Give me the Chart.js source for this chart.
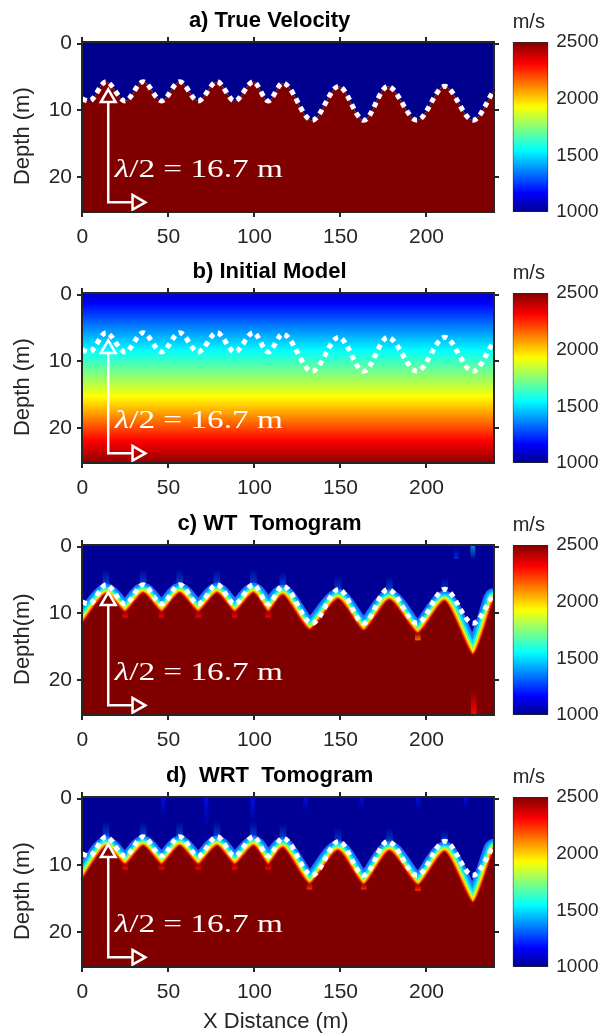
<!DOCTYPE html>
<html>
<head>
<meta charset="utf-8">
<script src="https://cdn.jsdelivr.net/npm/chart.js@4.4.1/dist/chart.umd.min.js"></script>
<style>
  html, body { margin: 0; padding: 0; background: #fff; }
  #fig { position: relative; width: 600px; height: 1036px; overflow: hidden; }
  canvas { position: absolute; }
</style>
</head>
<body>
<div id="fig"></div>
<script>
// axis limits and ticks
const X_MIN = -0.25, X_MAX = 239.25;
const Z_MIN = -0.25, Z_MAX = 25.25;
const V_MIN = 1000, V_MAX = 2500;
const xTicks = [0, 50, 100, 150, 200];
const zTicks = [0, 10, 20];
const vTicks = [1000, 1500, 2000, 2500];

// true interface (peaks / troughs)
const trueX = [-0.25, 4, 13.7, 24.8, 35.3, 46, 56.5, 67.3, 78.2, 88.5, 99.4, 108, 116.5, 133.5, 149, 163.5, 177.5, 194.5, 210.6, 227, 239.25];
const trueZ = [8.3, 8.6, 5.7, 8.6, 5.7, 8.6, 5.7, 8.6, 5.7, 8.6, 5.7, 8.6, 5.9, 11.5, 6.4, 11.5, 6.4, 11.5, 6.4, 11.5, 7.0];
const velTop = 1000, velBottom = 2500;

// initial model: velocity against depth (panel b)
const initDepth = [-0.25, 1.3, 8.4, 15.3, 21.9, 25.25];
const initVel = [1085, 1167, 1548, 1929, 2310, 2480];

// tomograms: depth where the ~2500 m/s region starts
const tomoX = [-0.25, 13.7, 24.8, 35.3, 46, 56.5, 67.3, 78.2, 88.5, 99.4, 108, 116.5, 132, 148.5, 163.5, 178.5, 195, 210.6, 227, 239.25];
const wtZ = [11.6, 7.1, 9.8, 7.0, 9.8, 7.0, 9.8, 7.0, 9.8, 7.0, 9.8, 7.3, 12.5, 7.9, 12.6, 8.0, 13.0, 8.2, 16.2, 7.8];
const wrtZ = [12.2, 7.2, 9.9, 7.1, 9.9, 7.1, 9.9, 7.1, 9.9, 7.1, 9.9, 7.4, 12.8, 7.8, 12.9, 7.9, 13.0, 8.0, 15.6, 7.6];
const tomoTopVel = 1010;

// light-blue glows above the peaks
const glowX = [13.7, 35.3, 56.5, 78.2, 99.4, 116.5, 148.5, 178.5, 210.6];
const glowTop = [3.4, 3.4, 3.4, 3.4, 3.4, 3.8, 4.4, 4.4, 4.6];
const glowBot = [6.8, 6.8, 6.8, 6.8, 6.8, 7.0, 7.6, 7.7, 7.9];

// isolated anomalies in the WT tomogram
const wtSpotX = [217.3, 227, 227.5, 24.8, 46, 67.3, 88.5, 108, 195];
const wtSpotTop = [0.2, -0.25, 21.5, 9.5, 9.5, 9.5, 9.5, 9.5, 12.9];
const wtSpotBot = [1.8, 2.0, 25.25, 10.6, 10.6, 10.6, 10.6, 10.6, 14.0];
const wtSpotVel = [1250, 1500, 2300, 2330, 2330, 2330, 2330, 2330, 2150];

// streaks and anomalies in the WRT tomogram
const wrtSpotX = [46.9, 71.9, 98.9, 129.7, 162.4, 195.2, 223, 24.8, 46, 67.3, 88.5, 108, 132, 163.5, 195];
const wrtSpotTop = [-0.25, -0.25, -0.25, -0.25, -0.25, -0.25, -0.25, 9.6, 9.6, 9.6, 9.6, 9.6, 12.6, 12.7, 12.8];
const wrtSpotBot = [3.0, 4.5, 4.0, 1.9, 1.5, 1.7, 1.5, 10.6, 10.6, 10.6, 10.6, 10.6, 13.6, 13.6, 13.8];
const wrtSpotVel = [1200, 1200, 1200, 1200, 1200, 1200, 1200, 2330, 2330, 2330, 2330, 2330, 2250, 2250, 2250];

// half-wavelength marker
const arrowX = [15, 15, 29.2];
const arrowZ = [8.76, 23.8, 23.8];
const headX = [15, 31.6];
const headZ = [8.12, 23.8];
const headRot = [0, 90];
const LABEL_X = 18.8, LABEL_Z = 20;

const INK = '#262626';
Chart.defaults.font.family = "'Liberation Sans', Arial, Helvetica, sans-serif";
Chart.defaults.color = INK;

function jet(v, a) {
  let t = (v - V_MIN) / (V_MAX - V_MIN);
  t = Math.min(1, Math.max(0, t));
  t = (t * 63 + 1) / 64;
  const c = (s) => Math.round(255 * Math.min(1, Math.max(0, s)));
  const r = c(Math.min(4 * t - 1.5, -4 * t + 4.5));
  const g = c(Math.min(4 * t - 0.5, -4 * t + 3.5));
  const b = c(Math.min(4 * t + 0.5, -4 * t + 2.5));
  return a === undefined ? `rgb(${r},${g},${b})` : `rgba(${r},${g},${b},${a})`;
}

function pts(xs, zs) {
  return xs.map((x, i) => ({ x, y: zs[i] }));
}

function profileAt(d, depths, vels) {
  if (d <= depths[0]) return vels[0];
  for (let i = 1; i < depths.length; i++) {
    if (d <= depths[i]) {
      const f = (d - depths[i - 1]) / (depths[i] - depths[i - 1]);
      return vels[i - 1] + f * (vels[i] - vels[i - 1]);
    }
  }
  return vels[vels.length - 1];
}

// vertical colour gradient for panel b, mapped through the y scale
function depthGradient(c) {
  const chart = c.chart;
  const area = chart.chartArea;
  if (!area) return jet(initVel[0]);
  const ys = chart.scales.y;
  const g = chart.ctx.createLinearGradient(0, area.top, 0, area.bottom);
  for (let k = 0; k <= 100; k++) {
    const d = Z_MIN + (Z_MAX - Z_MIN) * k / 100;
    const p = (ys.getPixelForValue(d) - area.top) / (area.bottom - area.top);
    g.addColorStop(Math.min(1, Math.max(0, p)), jet(profileAt(d, initDepth, initVel)));
  }
  return g;
}

function barGradient(c) {
  const chart = c.chart;
  const area = chart.chartArea;
  if (!area) return jet(V_MIN);
  const ys = chart.scales.y;
  const g = chart.ctx.createLinearGradient(0, area.top, 0, area.bottom);
  for (let k = 0; k <= 64; k++) {
    const v = V_MIN + (V_MAX - V_MIN) * k / 64;
    const p = (ys.getPixelForValue(v) - area.top) / (area.bottom - area.top);
    g.addColorStop(Math.min(1, Math.max(0, p)), jet(v));
  }
  return g;
}

// soft spot colour: fades away from the end that touches the surface / the layer
function spotColor(vels, alpha) {
  return (c) => {
    const chart = c.chart;
    const v = vels[c.dataIndex];
    if (!chart.chartArea || !c.raw) return jet(v, alpha);
    const [t, b] = c.raw.y;
    const ys = chart.scales.y;
    const g = chart.ctx.createLinearGradient(0, ys.getPixelForValue(t), 0, ys.getPixelForValue(b));
    if (t <= 0) {
      g.addColorStop(0, jet(v, alpha)); g.addColorStop(1, jet(v, 0));
    } else {
      g.addColorStop(0, jet(v, 0)); g.addColorStop(1, jet(v, alpha));
    }
    return g;
  };
}

const hidden = 'rgba(0,0,0,0)';

function fillLayer(xs, zs, edge, color, order, curve) {
  return Object.assign({
    data: pts(xs, zs), fill: { value: edge }, backgroundColor: color,
    borderColor: hidden, borderWidth: 0, pointRadius: 0, order, clip: 0
  }, curve);
}

function strokeLayer(xs, zs, color, width, order, curve) {
  return Object.assign({
    data: pts(xs, zs), fill: false, borderColor: color, borderWidth: width,
    borderJoinStyle: 'round', borderCapStyle: 'round', pointRadius: 0, order, clip: 0
  }, curve);
}

function spotLayer(xs, tops, bots, vels, alpha, thick, order) {
  return {
    type: 'bar', data: xs.map((x, i) => ({ x, y: [tops[i], bots[i]] })),
    backgroundColor: spotColor(vels, alpha), borderWidth: 0,
    barThickness: thick, grouped: false, order, clip: 0
  };
}

const smooth = { cubicInterpolationMode: 'monotone' };
const tent = { tension: 0.2 };

function markerLayers() {
  return [
    { data: pts(trueX, trueZ), borderColor: '#fff', borderWidth: 5, borderDash: [5, 4.5],
      borderCapStyle: 'butt', fill: false, pointRadius: 0, order: 10, clip: 0,
      cubicInterpolationMode: 'monotone' },
    { data: pts(arrowX, arrowZ), borderColor: '#fff', borderWidth: 2.5, fill: false,
      pointRadius: 0, order: 5, clip: 0, borderJoinStyle: 'miter' },
    { data: pts(headX, headZ), showLine: false, pointStyle: 'triangle', pointRadius: 8.5,
      pointRotation: headRot, pointBorderColor: '#fff', pointBorderWidth: 2.5,
      pointBackgroundColor: hidden, order: 4, clip: 0 }
  ];
}

// graded strokes that form the smooth transition above the tomogram interface
const BAND = [
  ['#2a66ff', 21], ['#0098ff', 18], ['#00d8ff', 15], ['#50ffaa', 11.5],
  ['#f0f000', 8], ['#ff8800', 5], ['#e81000', 2.5]
];

function tomoLayers(zs, spotX, spotTop, spotBot, spotVel) {
  const upper = [], lower = [];
  spotX.forEach((x, i) => (spotVel[i] < 1800 ? upper : lower).push(i));
  const pick = (arr, idx) => idx.map(i => arr[i]);
  const sets = [fillLayer(tomoX, zs, Z_MIN, jet(tomoTopVel), 100, tent)];
  sets.push(spotLayer(glowX, glowTop, glowBot, glowX.map(() => 1350), 0.75, 6, 95));
  sets.push(spotLayer(pick(spotX, upper), pick(spotTop, upper), pick(spotBot, upper), pick(spotVel, upper), 0.65, 4, 94));
  BAND.forEach(([col, w], i) => sets.push(strokeLayer(tomoX, zs, col, w, 90 - i, tent)));
  sets.push(fillLayer(tomoX, zs, Z_MAX, jet(2500), 80, tent));
  sets.push(spotLayer(pick(spotX, lower), pick(spotTop, lower), pick(spotBot, lower), pick(spotVel, lower), 0.95, 5, 75));
  return sets.concat(markerLayers());
}

const lambdaLabel = {
  id: 'lambdaLabel',
  afterDatasetsDraw(chart) {
    const { ctx } = chart;
    const px = chart.scales.x.getPixelForValue(LABEL_X);
    const py = chart.scales.y.getPixelForValue(LABEL_Z);
    const parts = [
      ['italic 25px "Liberation Serif", "DejaVu Serif", serif', 'λ'],
      ['25px "Liberation Serif", "DejaVu Serif", serif', '/2 = 16.7 m']
    ];
    ctx.save();
    let total = 0;
    parts.forEach(([f, t]) => { ctx.font = f; total += ctx.measureText(t).width; });
    ctx.translate(px, py);
    ctx.scale(168 / total, 1);
    ctx.fillStyle = '#fff';
    ctx.textBaseline = 'alphabetic';
    let cx = 0;
    parts.forEach(([f, t]) => { ctx.font = f; ctx.fillText(t, cx, 0); cx += ctx.measureText(t).width; });
    ctx.restore();
  }
};

const fig = document.getElementById('fig');

function makeCanvas(left, top, w, h) {
  const cv = document.createElement('canvas');
  cv.width = w; cv.height = h;
  cv.style.left = left + 'px'; cv.style.top = top + 'px';
  cv.style.width = w + 'px'; cv.style.height = h + 'px';
  fig.appendChild(cv);
  return cv;
}

const tickGrid = { drawOnChartArea: false, drawTicks: true, tickLength: 5, lineWidth: 2, tickWidth: 2, tickColor: INK, offset: false };
const frame = { display: true, color: INK, width: 2, z: 1 };

function panel(top, h, title, ylab, datasets, xlab) {
  const cv = makeCanvas(0, top, 505, h);
  new Chart(cv, {
    type: 'line',
    data: { datasets },
    options: {
      responsive: false, animation: false, devicePixelRatio: 1, events: [],
      layout: { padding: { left: 0, right: 2.5, top: 0, bottom: 0 } },
      plugins: {
        legend: { display: false }, tooltip: { enabled: false },
        title: { display: true, text: title, color: '#000', font: { size: 22, weight: 'bold' }, padding: { top: 8, bottom: 2 } }
      },
      scales: {
        x: {
          type: 'linear', position: 'bottom', min: X_MIN, max: X_MAX, offset: false,
          afterBuildTicks: s => { s.ticks = xTicks.map(value => ({ value })); },
          grid: tickGrid, border: frame,
          ticks: { font: { size: 21 }, padding: 8, maxRotation: 0, autoSkip: false, color: INK },
          title: xlab ? { display: true, text: xlab, font: { size: 22 }, color: INK, padding: { top: 0, bottom: 1 } } : { display: false },
          afterFit: s => { s.height = h - 212; }
        },
        x2: {
          type: 'linear', position: 'top', min: X_MIN, max: X_MAX, offset: false,
          afterBuildTicks: s => { s.ticks = xTicks.map(value => ({ value })); },
          grid: tickGrid, border: frame, ticks: { display: false },
          afterFit: s => { s.height = 5.6; }
        },
        y: {
          type: 'linear', position: 'left', min: Z_MIN, max: Z_MAX, reverse: true, offset: false,
          afterBuildTicks: s => { s.ticks = zTicks.map(value => ({ value })); },
          grid: tickGrid, border: frame,
          ticks: { font: { size: 21 }, padding: 5, color: INK },
          title: { display: true, text: ylab, font: { size: 22 }, color: INK, padding: { top: 10, bottom: 0 } },
          afterFit: s => { s.width = 82; }
        },
        y2: {
          type: 'linear', position: 'right', min: Z_MIN, max: Z_MAX, reverse: true, offset: false,
          afterBuildTicks: s => { s.ticks = zTicks.map(value => ({ value })); },
          grid: tickGrid, border: frame, ticks: { display: false },
          afterFit: s => { s.width = 6; }
        }
      }
    },
    plugins: [lambdaLabel]
  });
  colorbar(top);
}

function colorbar(top) {
  const cv = makeCanvas(500, top, 100, 252);
  new Chart(cv, {
    type: 'bar',
    data: {
      labels: [''],
      datasets: [{
        data: [[V_MIN, V_MAX]], backgroundColor: barGradient,
        borderColor: INK, borderWidth: 1, borderSkipped: false,
        barPercentage: 1, categoryPercentage: 1
      }]
    },
    options: {
      responsive: false, animation: false, devicePixelRatio: 1, events: [],
      layout: { padding: { left: 12.7, right: 0, top: 0, bottom: 40 } },
      plugins: {
        legend: { display: false }, tooltip: { enabled: false },
        title: { display: true, text: 'm/s', align: 'start', color: INK, font: { size: 20, weight: 'normal' }, padding: { top: 10, bottom: 8 } }
      },
      scales: {
        x: { display: false },
        y: {
          position: 'right', min: V_MIN, max: V_MAX,
          afterBuildTicks: s => { s.ticks = vTicks.map(value => ({ value })); },
          grid: { drawOnChartArea: false, drawTicks: false }, border: { display: false },
          ticks: { font: { size: 19 }, padding: 8, color: INK, callback: v => String(v) },
          afterFit: s => { s.width = 51.7; }
        }
      }
    }
  });
}

// a) true velocity
panel(0, 252, '      a) True Velocity', 'Depth (m)   ', [
  fillLayer(trueX, trueZ, Z_MIN, jet(velTop), 100, smooth),
  fillLayer(trueX, trueZ, Z_MAX, jet(velBottom), 90, smooth)
].concat(markerLayers()));

// b) initial model
panel(251, 252, '      b) Initial Model', 'Depth (m)   ', [
  { data: [{ x: X_MIN, y: Z_MIN }, { x: X_MAX, y: Z_MIN }], fill: { value: Z_MAX },
    backgroundColor: depthGradient, borderColor: hidden, borderWidth: 0, pointRadius: 0, order: 100, clip: 0 }
].concat(markerLayers()));

// c) WT tomogram
panel(503, 252, '      c) WT  Tomogram', 'Depth(m)   ', tomoLayers(wtZ, wtSpotX, wtSpotTop, wtSpotBot, wtSpotVel));

// d) WRT tomogram
panel(755, 281, '      d)  WRT  Tomogram', 'Depth (m)   ', tomoLayers(wrtZ, wrtSpotX, wrtSpotTop, wrtSpotBot, wrtSpotVel), 'X Distance (m)    ');
</script>
</body>
</html>
